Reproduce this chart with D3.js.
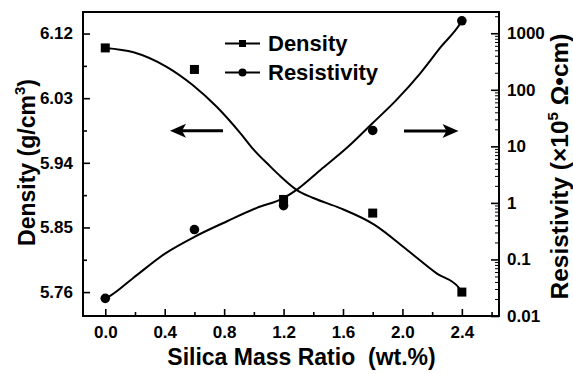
<!DOCTYPE html>
<html><head><meta charset="utf-8">
<script src="https://cdn.jsdelivr.net/npm/d3@7/dist/d3.min.js"></script>
<style>
html,body{margin:0;padding:0;background:#fff;}
text{font-family:"Liberation Sans",Arial,Helvetica,sans-serif;font-weight:bold;fill:#000;}
</style></head>
<body>
<svg id="c" width="573" height="374"></svg>
<script>
// ---- data ----
const silica = [0, 0.6, 1.2, 1.8, 2.4];
const density = [6.100, 6.070, 5.889, 5.870, 5.760];
const resistivity = [0.0205, 0.338, 0.895, 19.1, 1660];

// fitted curves
const densFitX = [0, 0.19, 0.41, 0.59, 0.75, 0.91, 1.0, 1.11, 1.18, 1.29, 1.40, 1.58, 1.81, 2.03, 2.23, 2.38, 2.4];
const densFitY = [6.100, 6.094, 6.074, 6.048, 6.018, 5.981, 5.958, 5.935, 5.921, 5.902, 5.891, 5.877, 5.854, 5.819, 5.786, 5.766, 5.760];
const resFitX = [0, 0.03, 0.19, 0.41, 0.60, 0.82, 1.02, 1.20, 1.29, 1.45, 1.63, 1.80, 1.96, 2.12, 2.26, 2.39, 2.4];
const resFitY = [0.0205, 0.0225, 0.0475, 0.131, 0.251, 0.474, 0.817, 1.22, 1.72, 3.86, 9.6, 25.8, 66.4, 196, 578, 1500, 1660];

const xMajor = [0, 0.4, 0.8, 1.2, 1.6, 2.0, 2.4];
const xMinor = [0.2, 0.6, 1.0, 1.4, 1.8, 2.2, 2.6];
const yLMajor = [5.76, 5.85, 5.94, 6.03, 6.12];
const yLMinor = [5.805, 5.895, 5.985, 6.075];
const yRMajor = [0.01, 0.1, 1, 10, 100, 1000];
const yRLabels = ["0.01", "0.1", "1", "10", "100", "1000"];
const legendLabels = ["Density", "Resistivity"];

// ---- layout ----
const L = 83, R = 499, T = 12, B = 316;
const svg = d3.select("#c");
const x = d3.scaleLinear().domain([-0.15, 2.65]).range([L, R]);
const yL = d3.scaleLinear().domain([5.7267, 6.15]).range([B, T]);
const yR = d3.scaleLog().domain([0.01, 2375]).range([B, T]);

const yRMinor = [];
for (let d = 0.01; d < 2000; d *= 10) for (let k = 2; k <= 9; k++) { const v = d * k; if (v <= 2375) yRMinor.push(v); }

function styleAxis(g) {
  g.select(".domain").remove();
  g.selectAll(".tick line").attr("stroke", "#000").attr("stroke-width", 1.6);
  g.selectAll(".tick text").style("font-size", "17px").style("font-family", '"Liberation Sans",Arial,sans-serif').style("font-weight", "bold");
}

// x axis
svg.append("g").attr("transform", `translate(0,${B})`)
  .call(d3.axisBottom(x).tickValues(xMajor).tickSize(-7).tickPadding(10).tickFormat(d3.format(".1f")))
  .call(styleAxis);
svg.append("g").attr("transform", `translate(0,${B})`)
  .call(d3.axisBottom(x).tickValues(xMinor).tickSize(-4).tickFormat(""))
  .call(styleAxis);

// left axis
svg.append("g").attr("transform", `translate(${L},0)`)
  .call(d3.axisLeft(yL).tickValues(yLMajor).tickSize(-7).tickPadding(10).tickFormat(d3.format(".2f")))
  .call(styleAxis);
svg.append("g").attr("transform", `translate(${L},0)`)
  .call(d3.axisLeft(yL).tickValues(yLMinor).tickSize(-4).tickFormat(""))
  .call(styleAxis);

// right axis
svg.append("g").attr("transform", `translate(${R},0)`)
  .call(d3.axisRight(yR).tickValues(yRMajor).tickSize(-8).tickPadding(8).tickFormat((d, i) => yRLabels[i]))
  .call(styleAxis);
svg.append("g").attr("transform", `translate(${R},0)`)
  .call(d3.axisRight(yR).tickValues(yRMinor).tickSize(-4).tickFormat(""))
  .call(g => { g.select(".domain").remove(); g.selectAll(".tick line").attr("stroke", "#000").attr("stroke-width", 1); });

// frame
svg.append("rect").attr("x", L).attr("y", T).attr("width", R - L).attr("height", B - T)
  .attr("fill", "none").attr("stroke", "#000").attr("stroke-width", 2);

// curves
const densLine = d3.line().x(d => x(d[0])).y(d => yL(d[1])).curve(d3.curveMonotoneX);
const resLine = d3.line().x(d => x(d[0])).y(d => yR(d[1])).curve(d3.curveMonotoneX);
svg.append("path").attr("d", densLine(d3.zip(densFitX, densFitY)))
  .attr("fill", "none").attr("stroke", "#000").attr("stroke-width", 2);
svg.append("path").attr("d", resLine(d3.zip(resFitX, resFitY)))
  .attr("fill", "none").attr("stroke", "#000").attr("stroke-width", 2);

// markers
const sq = 9;
svg.selectAll(".sq").data(d3.zip(silica, density)).enter().append("rect")
  .attr("x", d => x(d[0]) - sq / 2).attr("y", d => yL(d[1]) - sq / 2)
  .attr("width", sq).attr("height", sq).attr("fill", "#000");
svg.selectAll(".ci").data(d3.zip(silica, resistivity)).enter().append("circle")
  .attr("cx", d => x(d[0])).attr("cy", d => yR(d[1])).attr("r", 4.8).attr("fill", "#000");

// arrows
function arrow(x1, x2, y) {
  const dir = Math.sign(x2 - x1);
  svg.append("line").attr("x1", x1).attr("x2", x2 - dir * 10).attr("y1", y).attr("y2", y)
    .attr("stroke", "#000").attr("stroke-width", 3);
  svg.append("path").attr("d", `M${x2},${y} L${x2 - dir * 16},${y - 7} L${x2 - dir * 12},${y} L${x2 - dir * 16},${y + 7} Z`)
    .attr("fill", "#000");
}
arrow(223, 170, 130.7);
arrow(404, 458.5, 131);

// legend
const lg = svg.append("g");
legendLabels.forEach((lab, i) => {
  const yy = 43.5 + i * 29;
  lg.append("line").attr("x1", 225).attr("x2", 260).attr("y1", yy).attr("y2", yy).attr("stroke", "#000").attr("stroke-width", 2);
  if (i === 0) lg.append("rect").attr("x", 242.5 - 3.5).attr("y", yy - 3.5).attr("width", 7).attr("height", 7).attr("fill", "#000");
  else lg.append("circle").attr("cx", 242.5).attr("cy", yy).attr("r", 4).attr("fill", "#000");
  lg.append("text").attr("x", 268).attr("y", yy + 7.5).style("font-size", "22px").text(lab);
});

// axis titles
svg.append("text").attr("x", 301.5).attr("y", 364.5).attr("text-anchor", "middle")
  .style("font-size", "23px").style("white-space", "pre").text("Silica Mass Ratio  (wt.%)");

const lt = svg.append("text").attr("transform", "translate(35,162.5) rotate(-90)").attr("text-anchor", "middle").style("font-size", "23px");
lt.append("tspan").text("Density (g/cm");
lt.append("tspan").attr("dy", -10).style("font-size", "15px").text("3");
lt.append("tspan").attr("dy", 10).text(")");

const rt = svg.append("text").attr("transform", "translate(568,166.5) rotate(-90)").attr("text-anchor", "middle").style("font-size", "24.5px").style("white-space", "pre");
rt.append("tspan").text("Resistivity (\u00d710");
rt.append("tspan").attr("dy", -10).style("font-size", "15px").text("5");
rt.append("tspan").attr("dy", 10).text(" \u03a9\u2022cm)");
</script>
</body></html>
